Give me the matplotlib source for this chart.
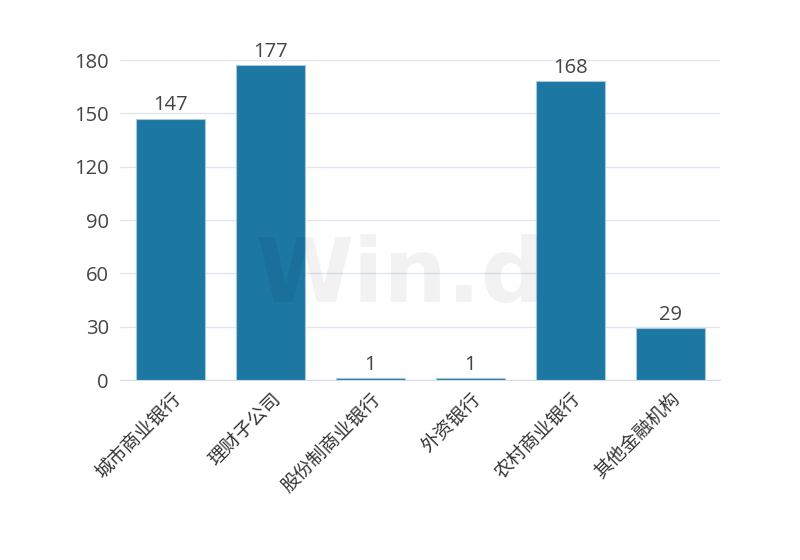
import matplotlib.pyplot as plt

plt.rcParams['font.family'] = ['Noto Sans CJK SC', 'DejaVu Sans']
num_font = ['Open Sans', 'DejaVu Sans']

categories = ['城市商业银行', '理财子公司', '股份制商业银行', '外资银行', '农村商业银行', '其他金融机构']
counts = [147, 177, 1, 1, 168, 29]
yticks = [0, 30, 60, 90, 120, 150, 180]

fig = plt.figure(figsize=(8, 5.6), dpi=100)
ax = fig.add_axes([120 / 800, 1 - 380 / 560, 600 / 800, 320 / 560])

x = range(len(categories))
bars = ax.bar(x, counts, width=0.69, color='#1c77a3', edgecolor='#a9c8dc', linewidth=0.8, zorder=3)

for xi, v in zip(x, counts):
    ax.text(xi, v + 2, str(v), ha='center', va='bottom', fontsize=14.5, color='#444444',
            family=num_font, zorder=4)

ax.set_xlim(-0.5, len(categories) - 0.5)
ax.set_ylim(0, 180)
ax.set_yticks(yticks)
ax.set_yticklabels([str(t) for t in yticks], fontsize=14.5, color='#444444', family=num_font)
ax.set_xticks(list(x))
ax.set_xticklabels(categories, rotation=45, ha='right', rotation_mode='anchor',
                   fontsize=13.5, color='#333333')
ax.tick_params(axis='both', length=0)
ax.tick_params(axis='y', pad=8)
ax.tick_params(axis='x', pad=6)

ax.grid(axis='y', color='#e0e6f1', linewidth=1, zorder=0)
for side in ['top', 'right', 'left']:
    ax.spines[side].set_visible(False)
ax.spines['bottom'].set_color('#d6dde9')

# watermark
fig.text(0.5, 0.505, 'Win.d', fontsize=64, fontweight='bold', color='#000000',
         alpha=0.05, ha='center', va='center', family='DejaVu Sans', zorder=10)

fig.savefig('out.png', dpi=100)
